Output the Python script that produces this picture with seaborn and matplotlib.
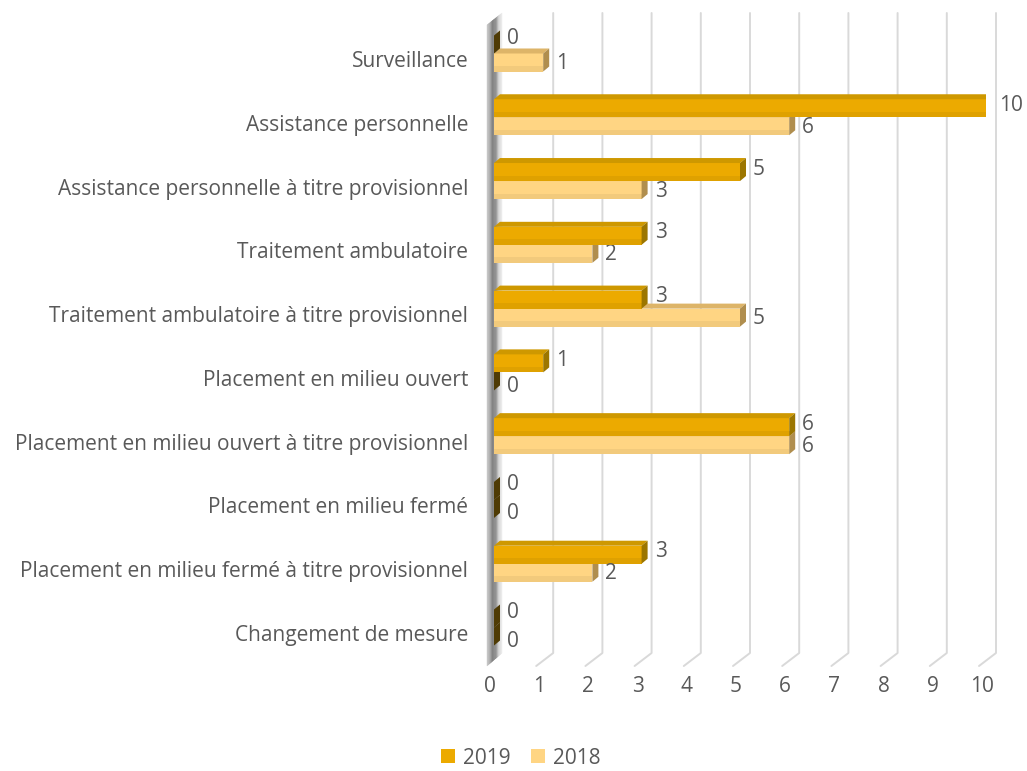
import numpy as np
import pandas as pd
import matplotlib
matplotlib.use("Agg")
import matplotlib.pyplot as plt
import seaborn as sns
from matplotlib.patches import Polygon, Patch
from matplotlib.lines import Line2D
from matplotlib.transforms import ScaledTranslation
from matplotlib.colors import to_rgb

categories = [
    "Surveillance",
    "Assistance personnelle",
    "Assistance personnelle à titre provisionnel",
    "Traitement ambulatoire",
    "Traitement ambulatoire à titre provisionnel",
    "Placement en milieu ouvert",
    "Placement en milieu ouvert à titre provisionnel",
    "Placement en milieu fermé",
    "Placement en milieu fermé à titre provisionnel",
    "Changement de mesure",
]
values_2019 = [0, 10, 5, 3, 3, 1, 6, 0, 3, 0]
values_2018 = [1, 6, 3, 2, 5, 0, 6, 0, 2, 0]
years = ["2019", "2018"]
x_ticks = list(range(0, 11))

df = pd.DataFrame({
    "Mesure": categories * 2,
    "Valeur": values_2019 + values_2018,
    "Année": [years[0]] * len(categories) + [years[1]] * len(categories),
})

FRONT = {"2019": "#ECAA00", "2018": "#FFD583"}
TOP = {"2019": "#CE9800", "2018": "#DDB468"}
SIDE = {"2019": "#9C7600", "2018": "#B08E4E"}
ZERO_SIDE = "#4F3B05"
TEXT = "#595959"
GRID = "#D9D9D9"
FS = 15

sns.set_theme(style="white")
plt.rcParams["font.family"] = ["Open Sans", "DejaVu Sans"]

W, H = 1027, 771
fig = plt.figure(figsize=(W / 100, H / 100), dpi=100)
ax_left, ax_right = 494, 986
ax_top, ax_bot = 21.6, 659.4
ax = fig.add_axes([ax_left / W, 1 - ax_bot / H, (ax_right - ax_left) / W, (ax_bot - ax_top) / H])

sns.barplot(data=df, y="Mesure", x="Valeur", hue="Année", hue_order=years,
            palette=[FRONT[y] for y in years], width=0.565, orient="h",
            saturation=1, legend=False, ax=ax)

ax.set_xlim(0, 10)
ax.set_ylim(len(categories) - 0.5, -0.5)
for s in ax.spines.values():
    s.set_visible(False)
ax.set_xlabel("")
ax.set_ylabel("")

px_x = 10 / (ax_right - ax_left)          # data units per pixel, x
px_y = len(categories) / (ax_bot - ax_top)  # data units per pixel, y

# back-wall gridlines with the floor edge
y_back_top = -0.5 - (ax_top - 13) * px_y
y_back_bot = len(categories) - 0.5 - (ax_bot - 653) * px_y
y_front_bot = len(categories) - 0.5 + (666 - ax_bot) * px_y
for v in x_ticks[1:]:
    xb = v + 10 * px_x
    xf = v - 7 * px_x
    ax.add_line(Line2D([xb, xb, xf], [y_back_top, y_back_bot, y_front_bot],
                       color=GRID, lw=1.4, clip_on=False, zorder=0))

# left side wall drawn as a shaded band
wall_x0, wall_x1 = -7 * px_x, 8 * px_x
wall_cols = ["#d0d0d0", "#a8a8a8", "#7c7c7c", "#8c8c8c", "#d4d4d4", "#eeeeee"]
n = 18
ys_top = (-0.5 - (ax_top - 25) * px_y, y_back_top)
ys_bot = (y_front_bot, y_back_bot)
grad = np.linspace(0, 1, n + 1)
stops = np.linspace(0, 1, len(wall_cols))
rgb = np.array([to_rgb(c) for c in wall_cols])
for i in range(n):
    t0, t1 = grad[i], grad[i + 1]
    xa = wall_x0 + (wall_x1 - wall_x0) * t0
    xb = wall_x0 + (wall_x1 - wall_x0) * t1
    ta = ys_top[0] + (ys_top[1] - ys_top[0]) * t0
    tb = ys_top[0] + (ys_top[1] - ys_top[0]) * t1
    ba = ys_bot[0] + (ys_bot[1] - ys_bot[0]) * t0
    bb = ys_bot[0] + (ys_bot[1] - ys_bot[0]) * t1
    tm = (t0 + t1) / 2
    col = [np.interp(tm, stops, rgb[:, k]) for k in range(3)]
    ax.add_patch(Polygon([(xa, ta), (xb, tb), (xb, bb), (xa, ba)], closed=True,
                         facecolor=col, edgecolor=col, lw=0.3, clip_on=False, zorder=1))

# 3D faces on each bar
dx = 6 * px_x
dy = 5 * px_y
bars = []
for p in ax.patches:
    if not hasattr(p, "get_width") or p.get_height() <= 0 or p.get_height() > 1:
        continue
    fc = p.get_facecolor()[:3]
    yr = min(years, key=lambda k: sum((a - b) ** 2 for a, b in zip(fc, to_rgb(FRONT[k]))))
    bars.append((p, yr))

bars.sort(key=lambda t: -t[0].get_y())
z = 3
for p, yr in bars:
    x0, w, y, h = p.get_x(), p.get_width(), p.get_y(), p.get_height()
    p.set_zorder(z)
    p.set_edgecolor("none")
    if w > 0:
        ax.add_patch(Polygon([(x0, y), (x0 + dx, y - dy), (x0 + w + dx, y - dy), (x0 + w, y)],
                             closed=True, facecolor=TOP[yr], edgecolor="none", zorder=z))
        ax.add_patch(Polygon([(x0 + w, y), (x0 + w + dx, y - dy), (x0 + w + dx, y + h - dy), (x0 + w, y + h)],
                             closed=True, facecolor=SIDE[yr], edgecolor="none", zorder=z))
        # slight shading on the lower part of the front face
        ax.add_patch(Polygon([(x0, y + h * 0.7), (x0 + w, y + h * 0.7), (x0 + w, y + h), (x0, y + h)],
                             closed=True, facecolor="black", alpha=0.05, edgecolor="none", zorder=z))
    else:
        ax.add_patch(Polygon([(x0, y), (x0 + dx, y - dy), (x0 + dx, y + h - dy), (x0, y + h)],
                             closed=True, facecolor=ZERO_SIDE, edgecolor="none", zorder=z, clip_on=False))
    if yr == years[0]:
        off = (-6 if w == 0 else -3) * px_y
    else:
        off = (5 if w == 0 else 1) * px_y
    ax.text(x0 + w + 13 * px_x, y + h / 2 + off, f"{w:g}", ha="left", va="center",
            fontsize=FS, color=TEXT, zorder=10, clip_on=False)
    z += 1

ax.set_xticks(x_ticks)
ax.set_xticklabels([str(t) for t in x_ticks])
ax.tick_params(axis="x", length=0, pad=12, labelsize=FS, labelcolor=TEXT)
ax.tick_params(axis="y", length=0, pad=18.5, labelsize=FS, labelcolor=TEXT)
for lab in ax.get_xticklabels():
    lab.set_transform(lab.get_transform() + ScaledTranslation(-4 / 100, 0, fig.dpi_scale_trans))
for lab in ax.get_yticklabels():
    lab.set_transform(lab.get_transform() + ScaledTranslation(0, -5.5 / 100, fig.dpi_scale_trans))
ax.grid(False)

handles = [Patch(facecolor=FRONT[y], edgecolor="none", label=y) for y in years]
fig.legend(handles=handles, loc="center", bbox_to_anchor=(521 / W, 1 - 758 / H), ncol=2,
           frameon=False, fontsize=FS, handlelength=0.65, handleheight=0.65,
           handletextpad=0.4, columnspacing=1.0, labelcolor=TEXT)

fig.savefig("out.png", dpi=100)
